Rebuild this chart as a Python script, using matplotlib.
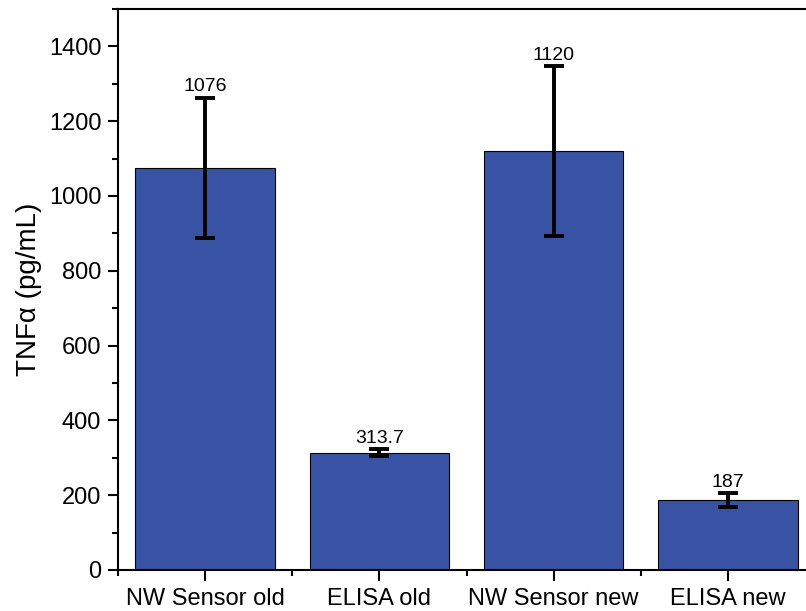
import numpy as np
import matplotlib
matplotlib.use('Agg')
import matplotlib.pyplot as plt
from matplotlib.ticker import MultipleLocator, FixedLocator

plt.rcParams['font.family'] = ['Liberation Sans', 'DejaVu Sans']

groups = ['NW Sensor old', 'ELISA old', 'NW Sensor new', 'ELISA new']
tnf = [1076, 313.7, 1120, 187]
tnf_err = [187, 10, 227, 19]
labels = ['1076', '313.7', '1120', '187']

fig = plt.figure(figsize=(8.06, 6.11), dpi=100)
# axes runs slightly past the right edge of the canvas
ax = fig.add_axes([118/806, 41/611, 697/806, 561/611])

x = np.arange(len(groups))
ax.bar(x, tnf, width=0.8, color='#3953a4', edgecolor='black', linewidth=0.8, zorder=2)
ax.errorbar(x, tnf, yerr=tnf_err, fmt='none', ecolor='black', elinewidth=2.8,
            capsize=7, capthick=2.8, zorder=3)

for xi, v, e, s in zip(x, tnf, tnf_err, labels):
    ax.text(xi, v + e + 6, s, ha='center', va='bottom', fontsize=14)

ax.set_xlim(-0.5, 3.5)
ax.set_ylim(0, 1500)
ax.set_xticks(x)
ax.set_xticklabels(groups, fontsize=17)
ax.xaxis.set_minor_locator(FixedLocator([-0.5, 0.5, 1.5, 2.5]))
ax.yaxis.set_major_locator(MultipleLocator(200))
ax.yaxis.set_minor_locator(MultipleLocator(100))
ax.tick_params(axis='y', which='major', length=7, width=1.5, labelsize=17, pad=5, direction='out')
ax.tick_params(axis='y', which='minor', length=4, width=1.5, direction='out')
ax.tick_params(axis='x', which='major', length=8, width=1.5, pad=5, direction='out')
ax.tick_params(axis='x', which='minor', length=4, width=1.5, direction='out')

for sp in ax.spines.values():
    sp.set_linewidth(1.5)

ax.set_ylabel('TNFα (pg/mL)', fontsize=20, labelpad=5)

fig.savefig('out.png', dpi=100)
